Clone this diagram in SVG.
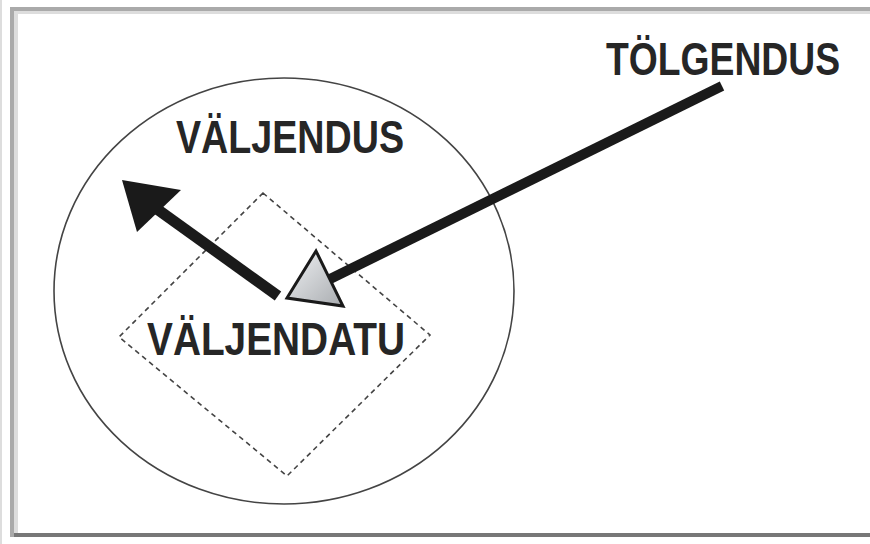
<svg xmlns="http://www.w3.org/2000/svg" width="870" height="544" viewBox="0 0 870 544">
  <defs>
    <style>
      .lbl { font-family: "Liberation Sans", Arial, sans-serif; font-weight: bold; font-size: 46px; fill: #262626; }
    </style>
    <linearGradient id="hg" x1="0" y1="0" x2="1" y2="1">
      <stop offset="0" stop-color="#f0f2f4"/>
      <stop offset="1" stop-color="#a9acb0"/>
    </linearGradient>
  </defs>
  <rect width="870" height="544" fill="#fff"/>
  <rect x="0" y="0" width="2" height="544" fill="#ddd"/>
  <g id="frame">
    <rect x="10" y="7" width="860" height="4" fill="#aaa"/>
    <rect x="14" y="11" width="856" height="3" fill="#ddd"/>
    <rect x="10" y="7" width="4" height="530" fill="#aaa"/>
    <rect x="14" y="11" width="4" height="522" fill="#ddd"/>
    <rect x="14" y="533" width="856" height="4" fill="#777"/>
  </g>
  <g id="circle-node">
    <ellipse cx="284" cy="291" rx="230" ry="213" fill="none" stroke="#444" stroke-width="1.6"/>
    <text class="lbl" x="176" y="153" textLength="228" lengthAdjust="spacingAndGlyphs">VÄLJENDUS</text>
  </g>
  <g id="diamond-node">
    <polygon points="263,193 430,335 287,476 119,337" fill="none" stroke="#444" stroke-width="1.6" stroke-dasharray="5,4"/>
    <text class="lbl" x="147" y="355" textLength="258" lengthAdjust="spacingAndGlyphs">VÄLJENDATU</text>
  </g>
  <g id="tolgendus-node">
    <text class="lbl" x="606" y="75" textLength="234" lengthAdjust="spacingAndGlyphs">TÖLGENDUS</text>
  </g>
  <g id="connectors">
    <line x1="278" y1="296" x2="150" y2="204" stroke="#1a1a1a" stroke-width="11"/>
    <polygon points="122,180 181,190 137,232" fill="#1a1a1a"/>
    <line x1="722" y1="86" x2="326" y2="281" stroke="#1a1a1a" stroke-width="10"/>
    <polygon points="287,298 316,251 343,306" fill="url(#hg)" stroke="#1a1a1a" stroke-width="3" stroke-linejoin="miter"/>
  </g>
</svg>
